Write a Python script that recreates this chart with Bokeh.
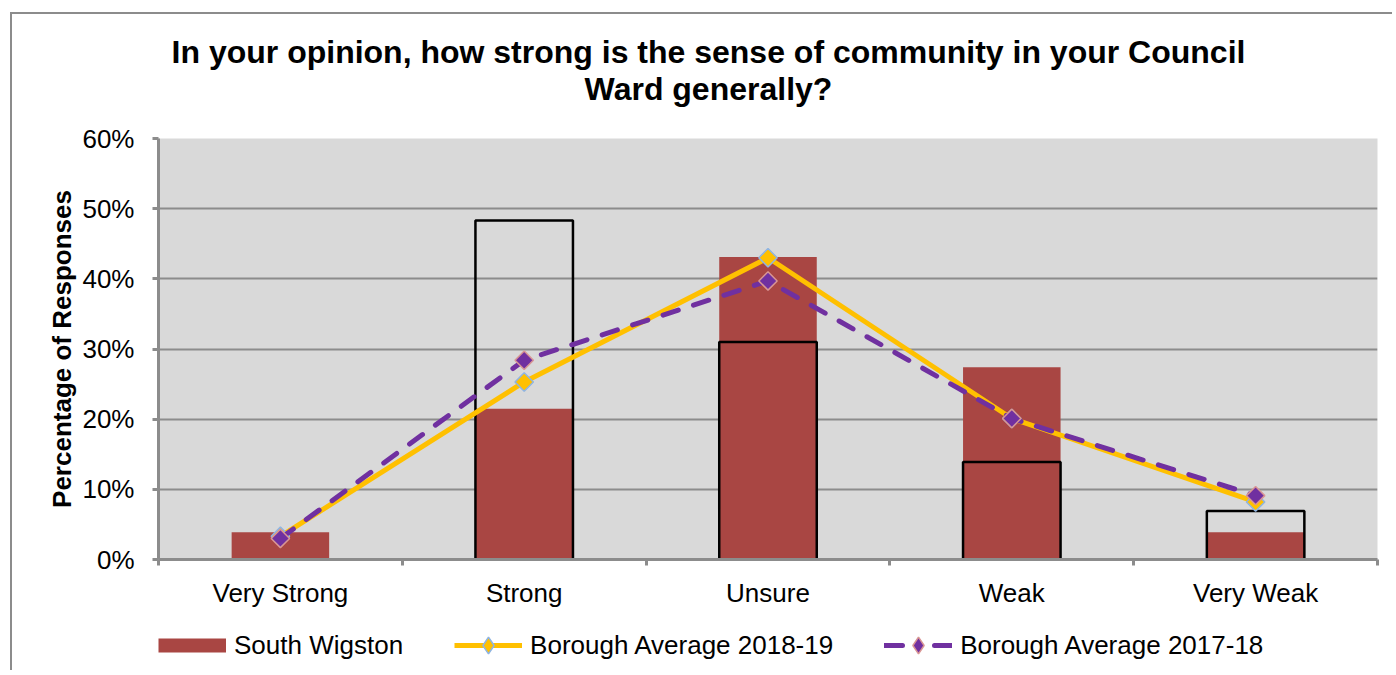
import numpy as np
from bokeh.plotting import figure
from bokeh.layouts import column
from bokeh.models import (ColumnDataSource, Legend, LegendItem, FixedTicker,
                          PrintfTickFormatter, Range1d, Label)
from bokeh.embed import file_html
from bokeh.resources import INLINE

categories = ["Very Strong", "Strong", "Unsure", "Weak", "Very Weak"]
south_wigston = [3.9, 21.5, 43.1, 27.4, 3.9]
ward_outline = [np.nan, 48.3, 31.0, 13.9, 6.9]
borough_2018_19 = [3.3, 25.3, 43.0, 20.1, 8.2]
borough_2017_18 = [3.0, 28.4, 39.7, 20.1, 9.1]
y_ticks = [0, 10, 20, 30, 40, 50, 60]
title_lines = ["In your opinion, how strong is the sense of community in your Council",
               "Ward generally?"]
series_names = ["South Wigston", "Borough Average 2018-19", "Borough Average 2017-18"]

x = [i + 0.5 for i in range(len(categories))]
src = ColumnDataSource(dict(x=x, sw=south_wigston, prev=ward_outline,
                            b19=borough_2018_19, b18=borough_2017_18))

FONT = "Liberation Sans"
GRAY = "#8C8C8C"
RED = "#A94643"
YEL = "#FFC000"
PUR = "#7030A0"
W = 1380
FW = 1219  # plot frame width shared by all strips (frames are aligned)

# ---------- title strip ----------
TH = 108
tf = figure(width=W, height=TH, output_backend="svg", toolbar_location=None,
            title=None, x_axis_location=None, y_axis_location=None,
            x_range=Range1d(0, FW), y_range=Range1d(0, TH),
            min_border=0, min_border_left=0, min_border_right=0,
            min_border_top=0, min_border_bottom=0)
tf.outline_line_color = None
tf.background_fill_color = "white"
tf.border_fill_color = "white"
tf.grid.visible = False
for txt, yy in zip(title_lines, [71, 34]):
    tf.add_layout(Label(x=550, y=yy, text=txt, text_align="center",
                        text_baseline="middle", text_font=FONT,
                        text_font_size="32px", text_font_style="bold",
                        text_color="black"))

# ---------- main chart ----------
p = figure(width=W, height=489, output_backend="svg", toolbar_location=None,
           title=None,
           x_range=Range1d(0, len(categories)), y_range=Range1d(0, 60),
           min_border_left=146, min_border_right=15, min_border_top=16,
           min_border_bottom=52)
p.background_fill_color = "#D9D9D9"
p.border_fill_color = "white"
p.outline_line_color = None

p.xgrid.visible = False
p.ygrid.ticker = FixedTicker(ticks=y_ticks)
p.ygrid.grid_line_color = GRAY
p.ygrid.grid_line_width = 2

xa = p.xaxis[0]
xa.ticker = FixedTicker(ticks=x, minor_ticks=list(range(len(categories) + 1)))
xa.major_label_overrides = {xi: c for xi, c in zip(x, categories)}
xa.major_tick_out = 0
xa.major_tick_in = 0
xa.minor_tick_out = 6
xa.minor_tick_in = 0
xa.minor_tick_line_color = GRAY
xa.minor_tick_line_width = 3
xa.axis_line_color = GRAY
xa.axis_line_width = 3
xa.major_label_text_font = FONT
xa.major_label_text_font_size = "26px"
xa.major_label_text_color = "black"
xa.major_label_standoff = 12

ya = p.yaxis[0]
ya.ticker = FixedTicker(ticks=y_ticks)
ya.formatter = PrintfTickFormatter(format="%d%%")
ya.major_tick_out = 6
ya.major_tick_in = 0
ya.minor_tick_out = 0
ya.minor_tick_in = 0
ya.major_tick_line_color = GRAY
ya.major_tick_line_width = 3
ya.axis_line_color = GRAY
ya.axis_line_width = 3
ya.major_label_text_font = FONT
ya.major_label_text_font_size = "26px"
ya.major_label_text_color = "black"
ya.major_label_standoff = 18
ya.axis_label = "Percentage of Responses"
ya.axis_label_text_font = FONT
ya.axis_label_text_font_size = "26px"
ya.axis_label_text_font_style = "bold"
ya.axis_label_text_color = "black"
ya.axis_label_standoff = 2

p.vbar(x="x", top="sw", bottom=0, width=0.4, source=src,
       fill_color=RED, line_color=None)
p.vbar(x="x", top="prev", bottom=0, width=0.4, source=src,
       fill_color=None, line_color="black", line_width=2.5)
p.line("x", "b19", source=src, line_color=YEL, line_width=5)
p.scatter("x", "b19", source=src, marker="square", angle=np.pi / 4, size=13,
          fill_color=YEL, line_color="#8EB4E3", line_width=1.5)
p.line("x", "b18", source=src, line_color=PUR, line_width=5,
       line_dash="16 16", line_cap="round")
p.scatter("x", "b18", source=src, marker="square", angle=np.pi / 4, size=13,
          fill_color=PUR, line_color="#D99694", line_width=1.5)

# ---------- legend strip ----------
LH = 59
lf = figure(width=W, height=LH, output_backend="svg", toolbar_location=None,
            title=None, x_axis_location=None, y_axis_location=None,
            x_range=Range1d(0, 1), y_range=Range1d(-200, -100),
            min_border=0, min_border_left=0, min_border_right=0,
            min_border_top=0, min_border_bottom=0)
lf.outline_line_color = None
lf.background_fill_color = "white"
lf.border_fill_color = "white"
lf.grid.visible = False
# legend proxies (their data lie outside the visible range of this strip)
r_sw = lf.line("x", "sw", source=src, line_color=RED, line_width=14)
r_l19 = lf.line("x", "b19", source=src, line_color=YEL, line_width=5)
r_m19 = lf.scatter("x", "b19", source=src, marker="diamond", size=13,
                   fill_color=YEL, line_color="#8EB4E3", line_width=1.5)
r_l18 = lf.line("x", "b18", source=src, line_color=PUR, line_width=5,
                line_dash="18 32", line_cap="round")
r_m18 = lf.scatter("x", "b18", source=src, marker="diamond", size=13,
                   fill_color=PUR, line_color="#D99694", line_width=1.5)

legend = Legend(items=[
    LegendItem(label=series_names[0], renderers=[r_sw]),
    LegendItem(label=series_names[1], renderers=[r_l19, r_m19]),
    LegendItem(label=series_names[2], renderers=[r_l18, r_m18]),
], orientation="horizontal", glyph_width=68, glyph_height=42, label_standoff=8,
   spacing=51, padding=0, margin=0, border_line_color=None,
   background_fill_alpha=0, label_text_font=FONT, label_text_font_size="26px",
   label_text_color="black", location=(0, 4))
lf.add_layout(legend, "center")

layout = column(tf, p, lf, spacing=0,
                styles={"margin-left": "10px", "margin-top": "12px",
                        "border-left": "2px solid #8C8C8C",
                        "border-top": "2px solid #8C8C8C"})

open("out.html", "w").write(file_html(layout, INLINE))
